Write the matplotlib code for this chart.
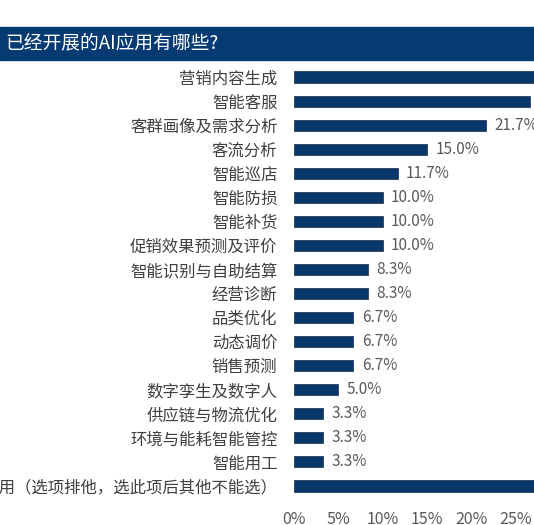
import matplotlib.pyplot as plt
from matplotlib.patches import Rectangle

plt.rcParams['font.family'] = ['Noto Sans CJK SC', 'DejaVu Sans']

title = '已经开展的AI应用有哪些?'
labels = ['营销内容生成', '智能客服', '客群画像及需求分析', '客流分析', '智能巡店',
          '智能防损', '智能补货', '促销效果预测及评价', '智能识别与自助结算', '经营诊断',
          '品类优化', '动态调价', '销售预测', '数字孪生及数字人', '供应链与物流优化',
          '环境与能耗智能管控', '智能用工', '暂未使用AI应用（选项排他，选此项后其他不能选）']
values = [28.3, 26.7, 21.7, 15.0, 11.7, 10.0, 10.0, 10.0, 8.3, 8.3,
          6.7, 6.7, 6.7, 5.0, 3.3, 3.3, 3.3, 30.0]
xticks = [0, 5, 10, 15, 20, 25]

W, H = 534, 525
bar_color = '#08376b'
text_color = '#595959'

fig = plt.figure(figsize=(W / 100, H / 100), dpi=100)
ax = fig.add_axes([294 / W, 1 - 498 / H, 1 - 294 / W, (498 - 65) / H])

y = list(range(len(labels)))
ax.barh(y, values, height=0.46, color=bar_color, edgecolor='#2a3f55', linewidth=0.6)
ax.set_ylim(len(labels) - 0.5, -0.5)
ax.set_xlim(0, 27.1)

for i, v in enumerate(values):
    ax.text(v + 0.95, i, f'{v:.1f}%', va='center', ha='left', fontsize=11,
            color=text_color, clip_on=False)

ax.set_yticks(y)
ax.set_yticklabels(labels, fontsize=11.8, color='#404040')
ax.set_xticks(xticks)
ax.set_xticklabels([f'{t}%' for t in xticks], fontsize=11.5, color=text_color)
ax.tick_params(axis='y', length=0, pad=12)
ax.tick_params(axis='x', length=0, pad=9)
for s in ax.spines.values():
    s.set_visible(False)

# title band
fig.patches.append(Rectangle((0, 1 - 60 / H), 1, 33 / H, transform=fig.transFigure,
                             color='#053a72', zorder=0))
fig.text(5 / W, 1 - 43 / H, title, color='white', fontsize=13.5, va='center', ha='left')

fig.savefig('out.png', dpi=100)
